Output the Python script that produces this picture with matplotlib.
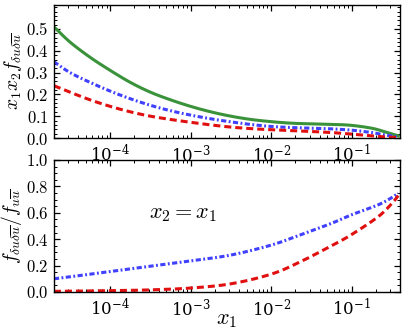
import numpy as np
import matplotlib
matplotlib.use("Agg")
import matplotlib.pyplot as plt
from matplotlib.ticker import MultipleLocator, FuncFormatter, LogLocator

plt.rcParams['mathtext.fontset'] = 'cm'
plt.rcParams['font.family'] = 'serif'
plt.rcParams['font.serif'] = ['DejaVu Serif']

# top panel: x1 x2 f (log10 x1)
logx_top = [-4.7, -4.5, -4.25, -4.0, -3.75, -3.5, -3.25, -3.0, -2.75, -2.5,
            -2.25, -2.0, -1.75, -1.5, -1.25, -1.0, -0.75, -0.6, -0.42]
green_top = [0.51, 0.44, 0.37, 0.31, 0.255, 0.21, 0.175, 0.145, 0.12, 0.10,
             0.085, 0.075, 0.068, 0.065, 0.063, 0.058, 0.045, 0.03, 0.01]
blue_top = [0.35, 0.30, 0.255, 0.215, 0.18, 0.15, 0.125, 0.105, 0.088, 0.074,
            0.062, 0.053, 0.048, 0.045, 0.042, 0.036, 0.025, 0.015, 0.005]
red_top = [0.24, 0.21, 0.175, 0.145, 0.12, 0.10, 0.085, 0.072, 0.06, 0.05,
           0.043, 0.038, 0.034, 0.03, 0.025, 0.018, 0.01, 0.005, 0.002]

# bottom panel: ratio, x2 = x1
logx_bot = [-4.7, -4.5, -4.0, -3.5, -3.0, -2.5, -2.0, -1.65, -1.25, -1.0, -0.67, -0.5, -0.42]
blue_bot = [0.10, 0.115, 0.155, 0.195, 0.235, 0.28, 0.355, 0.43, 0.52, 0.585, 0.66, 0.715, 0.75]
red_bot = [0.005, 0.006, 0.01, 0.016, 0.03, 0.062, 0.135, 0.225, 0.35, 0.435, 0.57, 0.67, 0.73]

c_green = '#3a923a'
c_blue = '#4040ff'
c_red = '#e01010'
dashdot = (0, (1.7, 0.8, 0.6, 0.8))
dashed = (0, (2.3, 1.3))


def smooth(lx, ly, n=400):
    # Catmull-Rom through the read points, in log10(x)
    lx = np.asarray(lx, float)
    ly = np.asarray(ly, float)
    px = np.concatenate([[2 * lx[0] - lx[1]], lx, [2 * lx[-1] - lx[-2]]])
    py = np.concatenate([[2 * ly[0] - ly[1]], ly, [2 * ly[-1] - ly[-2]]])
    xs, ys = [], []
    for i in range(1, len(px) - 2):
        t = np.linspace(0, 1, n // len(lx) + 2)[:-1]
        for arr, out in ((px, xs), (py, ys)):
            p0, p1, p2, p3 = arr[i - 1], arr[i], arr[i + 1], arr[i + 2]
            out.append(0.5 * (2 * p1 + (-p0 + p2) * t
                              + (2 * p0 - 5 * p1 + 4 * p2 - p3) * t ** 2
                              + (-p0 + 3 * p1 - 3 * p2 + p3) * t ** 3))
    xs.append([lx[-1]])
    ys.append([ly[-1]])
    return 10 ** np.concatenate(xs), np.concatenate(ys)


fig = plt.figure(figsize=(4.07, 3.32), dpi=100)
ax1 = fig.add_axes([0.1327, 0.5843, 0.8501, 0.4006])
ax2 = fig.add_axes([0.1327, 0.1205, 0.8501, 0.3976])

x, y = smooth(logx_top, green_top)
ax1.plot(x, y, color=c_green, lw=2.2, ls='-')
x, y = smooth(logx_top, blue_top)
ax1.plot(x, y, color=c_blue, lw=2.2, ls=dashdot)
x, y = smooth(logx_top, red_top)
ax1.plot(x, y, color=c_red, lw=2.2, ls=dashed)

x, y = smooth(logx_bot, blue_bot)
ax2.plot(x, y, color=c_blue, lw=2.2, ls=dashdot)
x, y = smooth(logx_bot, red_bot)
ax2.plot(x, y, color=c_red, lw=2.2, ls=dashed)

fmt = FuncFormatter(lambda v, p: r'$%.1f$' % v)
for ax in (ax1, ax2):
    ax.set_xscale('log')
    ax.set_xlim(2e-5, 0.4)
    ax.xaxis.set_major_locator(LogLocator(base=10, numticks=10))
    ax.xaxis.set_minor_locator(LogLocator(base=10, subs=np.arange(2, 10), numticks=20))
    ax.tick_params(which='both', direction='in', top=True, right=True, labelsize=12)
    ax.tick_params(which='major', length=4, width=0.9, pad=4)
    ax.tick_params(which='minor', length=2, width=0.7)
    ax.yaxis.set_major_formatter(fmt)
    for s in ax.spines.values():
        s.set_linewidth(1.0)

ax1.set_ylim(0, 0.61)
ax1.yaxis.set_major_locator(MultipleLocator(0.1))
ax1.yaxis.set_minor_locator(MultipleLocator(0.02))
ax1.set_yticks([0, 0.1, 0.2, 0.3, 0.4, 0.5])
ax1.set_ylabel(r'$x_1 x_2 f_{\delta u \delta \overline{u}}$', fontsize=14, labelpad=1)

ax2.set_ylim(0, 1.0)
ax2.yaxis.set_major_locator(MultipleLocator(0.2))
ax2.yaxis.set_minor_locator(MultipleLocator(0.05))
ax2.set_ylabel(r'$f_{\delta u \delta \overline{u}}/f_{u\overline{u}}$', fontsize=14, labelpad=1)
ax2.set_xlabel(r'$x_1$', fontsize=16)
ax2.xaxis.set_label_coords(0.5, -0.125)
ax2.text(0.373, 0.6, r'$x_2 = x_1$', transform=ax2.transAxes, fontsize=16,
         ha='center', va='center')

fig.savefig('out.png', dpi=100)
